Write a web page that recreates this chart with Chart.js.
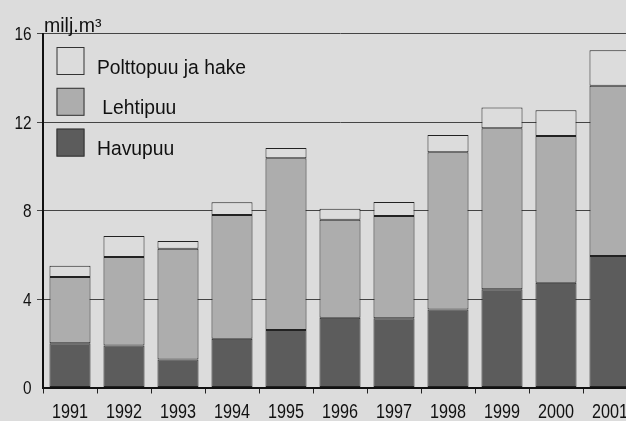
<!DOCTYPE html>
<html><head><meta charset="utf-8">
<script src="https://cdn.jsdelivr.net/npm/chart.js@4"></script>
<style>
html,body{margin:0;padding:0;background:#dcdcdc;overflow:hidden;}
#wrap{width:626px;height:421px;overflow:hidden;position:relative;background:#dcdcdc;}
canvas{display:block;}
</style></head><body>
<div id="wrap"><canvas id="c" width="640" height="421"></canvas></div>
<script>
const years = ['1991','1992','1993','1994','1995','1996','1997','1998','1999','2000','2001'];
const havupuu   = [2.0, 1.9, 1.27, 2.2, 2.6, 3.15, 3.13, 3.52, 4.44, 4.74, 5.94];
const lehtipuu  = [3.0, 4.0, 5.0, 5.6, 7.76, 4.43, 4.62, 7.11, 7.28, 6.63, 7.7];
const polttopuu = [0.5, 0.95, 0.35, 0.57, 0.46, 0.5, 0.63, 0.78, 0.93, 1.16, 1.6];
const seriesNames = ['Havupuu', ' Lehtipuu', 'Polttopuu ja hake'];
const yTicks = [0, 4, 8, 12, 16];
const unitLabel = 'milj.m³';

const FONT = "'Liberation Sans', Arial, sans-serif";
const BG = '#dcdcdc';
const SX = 0.81; // horizontal squeeze for narrow tick lettering

const overlay = {
  id: 'overlay',
  afterDraw(chart) {
    const ctx = chart.ctx, a = chart.chartArea;
    const xs = chart.scales.x, ys = chart.scales.y;
    ctx.save();
    ctx.fillStyle = '#111';
    ctx.textBaseline = 'alphabetic';
    // x tick labels
    ctx.font = '20px ' + FONT;
    ctx.textAlign = 'center';
    xs.ticks.forEach((t, i) => {
      const x = xs.getPixelForTick(i);
      ctx.save(); ctx.scale(SX, 1);
      ctx.fillText(String(chart.data.labels[i]), x / SX, xs.bottom - 3.5);
      ctx.restore();
    });
    // y tick labels
    ctx.font = '19px ' + FONT;
    ctx.textAlign = 'right';
    ys.ticks.forEach((t) => {
      const y = ys.getPixelForValue(t.value);
      ctx.save(); ctx.scale(SX, 1);
      ctx.fillText(String(t.value), 31.5 / SX, y + 6.8);
      ctx.restore();
    });
    // unit label
    ctx.textAlign = 'left';
    ctx.font = '19.5px ' + FONT;
    ctx.fillText(unitLabel, a.left + 1, a.top - 2);
    // legend
    const ds = chart.data.datasets;
    ctx.font = '19.3px ' + FONT;
    for (let i = 0; i < ds.length; i++) {
      const d = ds[ds.length - 1 - i];
      const bx = a.left + 13.5, by = a.top + 13.5 + i * 40.8;
      ctx.fillStyle = d.backgroundColor;
      ctx.fillRect(bx, by, 28, 28);
      ctx.strokeStyle = '#333';
      ctx.lineWidth = 1;
      ctx.strokeRect(bx + 0.5, by + 0.5, 27, 27);
      ctx.fillStyle = '#111';
      ctx.fillText(d.label, bx + 40.5, by + 26.5);
    }
    ctx.restore();
  }
};

new Chart(document.getElementById('c'), {
  type: 'bar',
  data: {
    labels: years,
    datasets: [
      {label: seriesNames[0], data: havupuu, backgroundColor: '#5c5c5c'},
      {label: seriesNames[1], data: lehtipuu, backgroundColor: '#adadad'},
      {label: seriesNames[2], data: polttopuu, backgroundColor: BG}
    ].map(d => Object.assign(d, {borderColor: '#222', borderWidth: 1, borderSkipped: false,
      barPercentage: 0.76, categoryPercentage: 1}))
  },
  options: {
    responsive: false,
    animation: false,
    layout: {padding: {top: 33.5, right: 3, left: 0, bottom: 0}},
    plugins: {legend: {display: false}, tooltip: {enabled: false}},
    scales: {
      x: {
        stacked: true,
        offset: true,
        grid: {display: true, offset: true, drawOnChartArea: false, drawTicks: true, tickLength: 6, color: '#222', lineWidth: 1},
        border: {display: true, color: '#111', width: 2},
        ticks: {display: false, autoSkip: false},
        afterFit(s) { s.height = 33.5; }
      },
      y: {
        stacked: true,
        min: yTicks[0], max: yTicks[yTicks.length - 1],
        afterBuildTicks(s) { s.ticks = yTicks.map(v => ({value: v})); },
        grid: {color: ctx => ctx.tick && ctx.tick.value === 0 ? 'rgba(0,0,0,0)' : '#444', lineWidth: 1, tickLength: 6, drawTicks: true},
        border: {display: true, color: '#111', width: 2},
        ticks: {display: false},
        afterFit(s) { s.width = 43; }
      }
    }
  },
  plugins: [overlay]
});
</script>
</body></html>
